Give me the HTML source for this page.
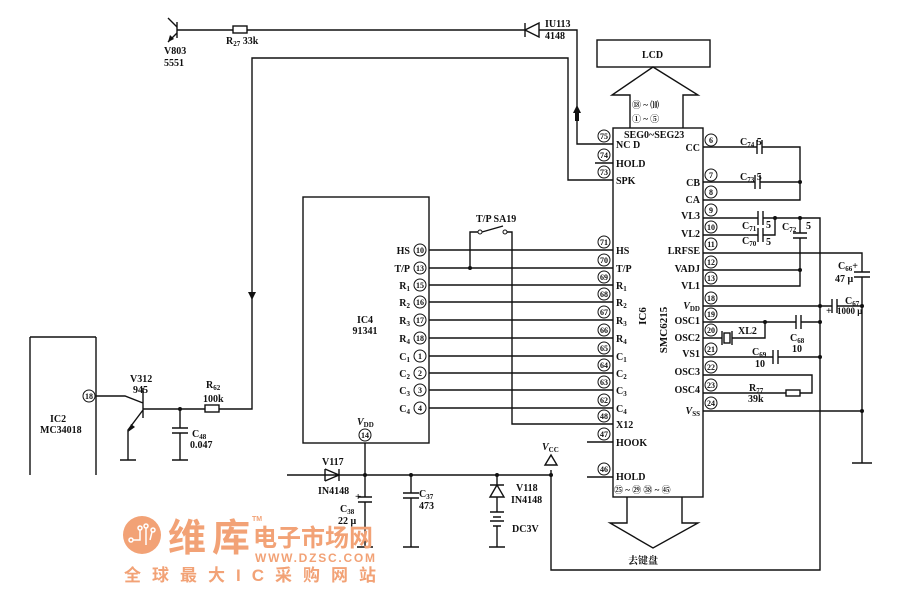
<!DOCTYPE html>
<html><head><meta charset="utf-8"><style>
html,body{margin:0;padding:0;background:#fff;}
svg{display:block;font-size:10px}
text{font-family:"Liberation Serif","Noto Serif CJK SC",serif;font-weight:bold;fill:#111}
.w{font-family:"Liberation Sans","Noto Sans CJK SC",sans-serif;fill:#f2a276;font-weight:bold}
</style></head><body>
<svg width="900" height="589" viewBox="0 0 900 589" xmlns="http://www.w3.org/2000/svg">
<g stroke="#111" stroke-width="1.4" fill="none">
<path d="M177,22 V38 M177,30 H233 M247,30 H525 M539,30 H577 V144 H613"/>
<path d="M177,27 L168,18 M177,33 L168,42"/>
<rect x="233" y="26" width="14" height="7"/>
<path d="M525,23 V37 M525,30 L539,23 V37 Z"/>
<path d="M252,395 V58 H568 V180 H613"/>
<rect x="597" y="40" width="113" height="27"/>
<path d="M630,128 V95 H612 L653,67 L698,95 H683 V128"/>
<rect x="613" y="128" width="90" height="369"/>
<path d="M627,497 V523 H610 L653,548 L698,523 H682 V497"/>
<rect x="303" y="197" width="126" height="246"/>
<path d="M429,250 H613 M429,268 H613 M429,285 H613 M429,302 H613 M429,320 H613 M429,338 H613 M429,356 H613 M429,373 H613 M429,390 H613 M429,408 H613"/>
<path d="M595,163 H613 M587,442 H613 M587,477 H613"/>
<path d="M470,268 V232 H478 M482,232 L503,226 M507,232 H512 V424 H613"/>
<path d="M703,147 H757 M762,147 H800 V200 H703 M703,182 H755 M760,182 H800"/>
<path d="M757,140 V154 M762,140 V154 M755,175 V189 M760,175 V189"/>
<path d="M703,218 H758 M763,218 H820 V570 H551 V470 M703,235 H758 M763,235 H775 V218"/>
<path d="M758,211 V225 M763,211 V225 M758,228 V242 M763,228 V242"/>
<path d="M800,218 V233 M793,233 H807 M793,238 H807 M800,238 V286 H703 M703,270 H800"/>
<path d="M703,253 H862 V272 M854,272 H870 M854,277 H870 M862,277 V463 M852,463 H872"/>
<path d="M703,306 H832 M837,306 H862 M832,299 V313 M837,299 V313"/>
<path d="M703,322 H796 M801,322 H820 M796,315 V329 M801,315 V329"/>
<path d="M703,338 H722 M732,338 H765 V322 M722,331 V345 M732,331 V345"/>
<rect x="724" y="333" width="6" height="10"/>
<path d="M703,357 H773 M778,357 H820 M773,350 V364 M778,350 V364"/>
<path d="M703,375 H812 V393 H800 M786,393 H703"/>
<rect x="786" y="390" width="14" height="6"/>
<path d="M703,411 H862"/>
<path d="M545,465 H557 L551,455 Z"/>
<path d="M287,475 H551 M325,469 V481 M325,469 L339,475 L325,481 M339,469 V481"/>
<path d="M365,443 V475 V497 M358,497 H372 M358,502 H372 M365,502 V547 M357,547 H373"/>
<path d="M411,475 V493 M403,493 H419 M403,498 H419 M411,498 V547 M403,547 H419"/>
<path d="M497,475 V485 M490,485 H504 M497,485 L490,497 H504 Z M497,497 V512 M490,512 H504 M493,517 H501 M490,521 H504 M493,526 H501 M497,526 V547 M489,547 H505"/>
<path d="M30,337 V475 M96,337 V475 M30,337 H96"/>
<path d="M96,396 H125 L143,403 M143,388 V418 M143,410 L128,430 V460 M120,460 H136 M143,409 H205 M219,409 H252 V395"/>
<rect x="205" y="405" width="14" height="7"/>
<path d="M180,409 V428 M172,428 H188 M172,433 H188 M180,433 V460 M172,460 H188"/>
</g>
<g fill="#111">
<path d="M128,432 L131,424 L135,427 Z"/>
<path d="M168,42 L170,35 L174,39 Z"/>
<path d="M577,105 L573,113 H581 Z"/><rect x="575" y="113" width="4" height="8"/>
<path d="M252,300 L248,292 H256 Z"/>
<circle cx="180" cy="409" r="2"/><circle cx="470" cy="268" r="2"/>
<circle cx="800" cy="182" r="2"/><circle cx="775" cy="218" r="2"/><circle cx="800" cy="218" r="2"/>
<circle cx="800" cy="270" r="2"/><circle cx="820" cy="306" r="2"/><circle cx="862" cy="306" r="2"/>
<circle cx="765" cy="322" r="2"/><circle cx="820" cy="322" r="2"/><circle cx="820" cy="357" r="2"/>
<circle cx="862" cy="411" r="2"/><circle cx="365" cy="475" r="2"/><circle cx="411" cy="475" r="2"/>
<circle cx="497" cy="475" r="2"/><circle cx="551" cy="475" r="2"/>
</g>
<g fill="#fff" stroke="#111" stroke-width="1">
<circle cx="480" cy="232" r="2"/><circle cx="505" cy="232" r="2"/>
</g>
<text x="164" y="54">V803</text><text x="164" y="66">5551</text>
<text x="226" y="44">R<tspan font-size="7" dy="2">27</tspan><tspan dy="-2"> 33k</tspan></text>
<text x="545" y="27">IU113</text><text x="545" y="39">4148</text>
<text x="642" y="58">LCD</text>
<text x="632" y="108" font-size="9">⑱ ~ ⑽</text><text x="632" y="122" font-size="9">① ~ ⑤</text>
<text x="624" y="138">SEG0~SEG23</text>
<g>
<text x="616" y="148">NC  D</text><text x="616" y="167">HOLD</text><text x="616" y="184">SPK</text>
<text x="616" y="254">HS</text><text x="616" y="272">T/P</text>
<text x="616" y="289">R<tspan font-size="7" dy="2">1</tspan></text><text x="616" y="306">R<tspan font-size="7" dy="2">2</tspan></text>
<text x="616" y="324">R<tspan font-size="7" dy="2">3</tspan></text><text x="616" y="342">R<tspan font-size="7" dy="2">4</tspan></text>
<text x="616" y="360">C<tspan font-size="7" dy="2">1</tspan></text><text x="616" y="377">C<tspan font-size="7" dy="2">2</tspan></text>
<text x="616" y="394">C<tspan font-size="7" dy="2">3</tspan></text><text x="616" y="412">C<tspan font-size="7" dy="2">4</tspan></text>
<text x="616" y="428">X12</text><text x="616" y="446">HOOK</text><text x="616" y="480">HOLD</text>
<text x="614" y="493" font-size="9">㉕ ~ ㉙  ㊳ ~ ㊺</text>
</g>
<g text-anchor="end">
<text x="700" y="151">CC</text><text x="700" y="186">CB</text><text x="700" y="203">CA</text>
<text x="700" y="219">VL3</text><text x="700" y="237">VL2</text><text x="700" y="254">LRFSE</text>
<text x="700" y="272">VADJ</text><text x="700" y="289">VL1</text>
<text x="700" y="309"><tspan font-style="italic">V</tspan><tspan font-size="7" dy="2">DD</tspan></text>
<text x="700" y="324">OSC1</text><text x="700" y="341">OSC2</text><text x="700" y="357">VS1</text>
<text x="700" y="375">OSC3</text><text x="700" y="393">OSC4</text>
<text x="700" y="414"><tspan font-style="italic">V</tspan><tspan font-size="7" dy="2">SS</tspan></text>
<text x="410" y="254">HS</text><text x="410" y="272">T/P</text>
<text x="410" y="289">R<tspan font-size="7" dy="2">1</tspan></text><text x="410" y="306">R<tspan font-size="7" dy="2">2</tspan></text>
<text x="410" y="324">R<tspan font-size="7" dy="2">3</tspan></text><text x="410" y="342">R<tspan font-size="7" dy="2">4</tspan></text>
<text x="410" y="360">C<tspan font-size="7" dy="2">1</tspan></text><text x="410" y="377">C<tspan font-size="7" dy="2">2</tspan></text>
<text x="410" y="394">C<tspan font-size="7" dy="2">3</tspan></text><text x="410" y="412">C<tspan font-size="7" dy="2">4</tspan></text>
</g>
<g text-anchor="middle">
<g fill="none" stroke="#111" stroke-width="1">
<circle cx="604" cy="136" r="6"/><circle cx="604" cy="155" r="6"/><circle cx="604" cy="172" r="6"/>
<circle cx="604" cy="242" r="6"/><circle cx="604" cy="260" r="6"/><circle cx="604" cy="277" r="6"/>
<circle cx="604" cy="294" r="6"/><circle cx="604" cy="312" r="6"/><circle cx="604" cy="330" r="6"/>
<circle cx="604" cy="348" r="6"/><circle cx="604" cy="365" r="6"/><circle cx="604" cy="382" r="6"/>
<circle cx="604" cy="400" r="6"/><circle cx="604" cy="416" r="6"/><circle cx="604" cy="434" r="6"/>
<circle cx="604" cy="469" r="6"/>
<circle cx="711" cy="140" r="6"/><circle cx="711" cy="175" r="6"/><circle cx="711" cy="192" r="6"/>
<circle cx="711" cy="210" r="6"/><circle cx="711" cy="227" r="6"/><circle cx="711" cy="244" r="6"/>
<circle cx="711" cy="262" r="6"/><circle cx="711" cy="278" r="6"/><circle cx="711" cy="298" r="6"/>
<circle cx="711" cy="314" r="6"/><circle cx="711" cy="330" r="6"/><circle cx="711" cy="349" r="6"/>
<circle cx="711" cy="367" r="6"/><circle cx="711" cy="385" r="6"/><circle cx="711" cy="403" r="6"/>
<circle cx="420" cy="250" r="6"/><circle cx="420" cy="268" r="6"/><circle cx="420" cy="285" r="6"/>
<circle cx="420" cy="302" r="6"/><circle cx="420" cy="320" r="6"/><circle cx="420" cy="338" r="6"/>
<circle cx="420" cy="356" r="6"/><circle cx="420" cy="373" r="6"/><circle cx="420" cy="390" r="6"/>
<circle cx="420" cy="408" r="6"/><circle cx="365" cy="435" r="6"/><circle cx="89" cy="396" r="6"/>
</g>
<g font-size="8">
<text x="604" y="139">75</text><text x="604" y="158">74</text><text x="604" y="175">73</text>
<text x="604" y="245">71</text><text x="604" y="263">70</text><text x="604" y="280">69</text>
<text x="604" y="297">68</text><text x="604" y="315">67</text><text x="604" y="333">66</text>
<text x="604" y="351">65</text><text x="604" y="368">64</text><text x="604" y="385">63</text>
<text x="604" y="403">62</text><text x="604" y="419">48</text><text x="604" y="437">47</text>
<text x="604" y="472">46</text>
<text x="711" y="143">6</text><text x="711" y="178">7</text><text x="711" y="195">8</text>
<text x="711" y="213">9</text><text x="711" y="230">10</text><text x="711" y="247">11</text>
<text x="711" y="265">12</text><text x="711" y="281">13</text><text x="711" y="301">18</text>
<text x="711" y="317">19</text><text x="711" y="333">20</text><text x="711" y="352">21</text>
<text x="711" y="370">22</text><text x="711" y="388">23</text><text x="711" y="406">24</text>
<text x="420" y="253">10</text><text x="420" y="271">13</text><text x="420" y="288">15</text>
<text x="420" y="305">16</text><text x="420" y="323">17</text><text x="420" y="341">18</text>
<text x="420" y="359">1</text><text x="420" y="376">2</text><text x="420" y="393">3</text>
<text x="420" y="411">4</text><text x="365" y="438">14</text><text x="89" y="399">18</text>
</g>
</g>
<text x="667" y="330" transform="rotate(-90 667 330)" text-anchor="middle" font-size="11">SMC6215</text>
<text x="646" y="316" transform="rotate(-90 646 316)" text-anchor="middle" font-size="11">IC6</text>
<text x="740" y="145">C<tspan font-size="7" dy="2">74</tspan><tspan dy="-2"> 5</tspan></text>
<text x="740" y="180">C<tspan font-size="7" dy="2">73</tspan><tspan dy="-2"> 5</tspan></text>
<text x="742" y="229">C<tspan font-size="7" dy="2">71</tspan></text><text x="766" y="228">5</text>
<text x="742" y="244">C<tspan font-size="7" dy="2">70</tspan></text><text x="766" y="245">5</text>
<text x="782" y="230">C<tspan font-size="7" dy="2">72</tspan></text><text x="806" y="229">5</text>
<text x="838" y="269">C<tspan font-size="7" dy="2">66</tspan><tspan dy="-2">+</tspan></text><text x="835" y="282">47 μ</text>
<text x="845" y="304">C<tspan font-size="7" dy="2">67</tspan></text><text x="826" y="314">+</text><text x="837" y="314" font-size="9">1000 μ</text>
<text x="738" y="334">XL2</text>
<text x="790" y="341">C<tspan font-size="7" dy="2">68</tspan></text><text x="792" y="352">10</text>
<text x="752" y="355">C<tspan font-size="7" dy="2">69</tspan></text><text x="755" y="367">10</text>
<text x="749" y="391">R<tspan font-size="7" dy="2">77</tspan></text><text x="748" y="402">39k</text>
<text x="476" y="222">T/P  SA19</text>
<text x="365" y="323" text-anchor="middle">IC4</text><text x="365" y="334" text-anchor="middle">91341</text>
<text x="357" y="425"><tspan font-style="italic">V</tspan><tspan font-size="7" dy="2">DD</tspan></text>
<text x="542" y="450"><tspan font-style="italic">V</tspan><tspan font-size="7" dy="2">CC</tspan></text>
<text x="322" y="465">V117</text><text x="318" y="494">IN4148</text>
<text x="340" y="512">C<tspan font-size="7" dy="2">38</tspan></text><text x="338" y="524">22 μ</text><text x="355" y="500" font-size="11">+</text>
<text x="419" y="497">C<tspan font-size="7" dy="2">37</tspan></text><text x="419" y="509">473</text>
<text x="516" y="491">V118</text><text x="511" y="503">IN4148</text><text x="512" y="532">DC3V</text>
<text x="628" y="564">去键盘</text>
<text x="130" y="382">V312</text><text x="133" y="393">945</text>
<text x="206" y="388">R<tspan font-size="7" dy="2">62</tspan></text><text x="203" y="402">100k</text>
<text x="192" y="437">C<tspan font-size="7" dy="2">48</tspan></text><text x="190" y="448">0.047</text>
<text x="50" y="422">IC2</text><text x="40" y="433">MC34018</text>
<circle cx="142" cy="535" r="19" fill="#f2a276"/>
<g stroke="#fff" stroke-width="1.5" fill="none"><path d="M133,540 H140 V530 M146,545 V528 M150,540 L152,532"/><circle cx="131" cy="540" r="2"/><circle cx="140" cy="528" r="2"/><circle cx="146" cy="526" r="2"/><circle cx="153" cy="530" r="2"/></g>
<text class="w" x="168" y="551" font-size="38" textLength="82">维库</text>
<text class="w" x="253" y="546" font-size="24" textLength="120">电子市场网</text>
<text class="w" x="252" y="521" font-size="7">TM</text>
<text class="w" x="255" y="562" font-size="12" textLength="120">WWW.DZSC.COM</text>
<text class="w" x="124" y="581" font-size="17" textLength="252">全球最大IC采购网站</text>
</svg>
</body></html>
